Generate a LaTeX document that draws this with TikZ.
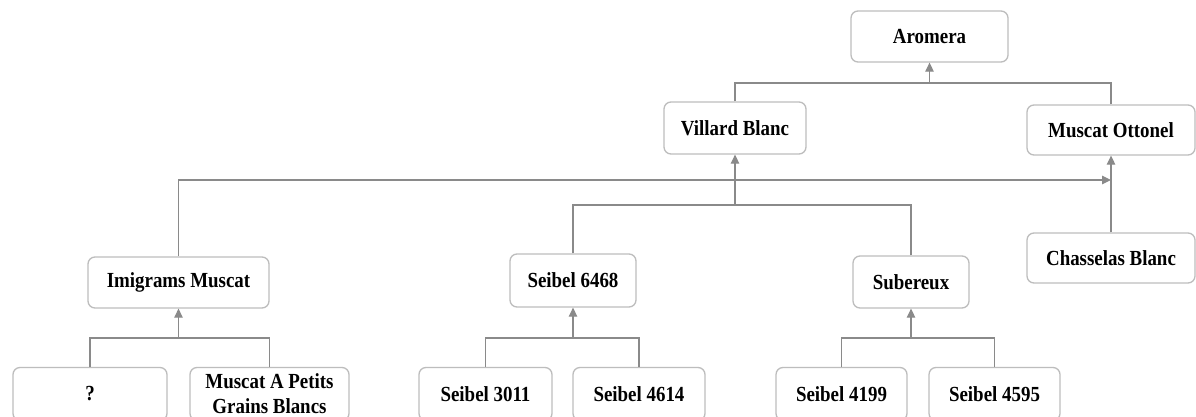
\documentclass[tikz,border=0pt]{standalone}
\usepackage{fontspec}
\setmainfont{Liberation Serif}[FakeStretch=0.88]
\usetikzlibrary{arrows.meta}
\definecolor{boxline}{HTML}{BDBDBD}
\definecolor{wire}{HTML}{8A8A8A}
\tikzset{
  vbox/.style={draw=boxline, line width=1.3pt, rounded corners=7pt, fill=white,
    inner sep=0pt, align=center, font=\fontsize{21.5}{25}\selectfont\bfseries,
    text=black},
  wirestyle/.style={draw=wire, line width=1.2pt},
  arr/.style={wirestyle, -{Triangle[length=9pt,width=8.5pt]}},
}
\begin{document}
\begin{tikzpicture}[x=1pt,y=-1pt]
  \clip (0,0) rectangle (1196,417);
  \fill[white] (0,0) rectangle (1196,417);

  % top level
  \node[vbox, minimum width=157pt, minimum height=51pt] (aromera) at (929.5,36.5) {Aromera};
  \node[vbox, minimum width=142pt, minimum height=52pt] (villard) at (735,128) {Villard Blanc};
  \node[vbox, minimum width=168pt, minimum height=50pt] (muscotto) at (1111,130) {Muscat Ottonel};
  \node[vbox, minimum width=168pt, minimum height=50pt] (chasselas) at (1111,258) {Chasselas Blanc};

  % middle level
  \node[vbox, minimum width=181pt, minimum height=51pt] (imig) at (178.5,282.5) {Imigrams Muscat};
  \node[vbox, minimum width=126pt, minimum height=53pt] (s6468) at (573,280.5) {Seibel 6468};
  \node[vbox, minimum width=116pt, minimum height=52pt] (subereux) at (911,282) {Subereux};

  % bottom level
  \node[vbox, minimum width=154pt, minimum height=53pt] (unknown) at (90,394) {?};
  \node[vbox, minimum width=159pt, minimum height=53pt] (mapgb) at (269.5,394) {Muscat A Petits\\Grains Blancs};
  \node[vbox, minimum width=133pt, minimum height=53pt] (s3011) at (485.5,394) {Seibel 3011};
  \node[vbox, minimum width=132pt, minimum height=53pt] (s4614) at (639,394) {Seibel 4614};
  \node[vbox, minimum width=131pt, minimum height=53pt] (s4199) at (841.5,394) {Seibel 4199};
  \node[vbox, minimum width=131pt, minimum height=53pt] (s4595) at (994.5,394) {Seibel 4595};

  % junction points of the parent pairs
  \coordinate (jA) at (929.5,83);
  \coordinate (jV) at (735,205);
  \coordinate (jM) at (1111,180);
  \coordinate (jI) at (178.5,338);
  \coordinate (jS) at (573,338);
  \coordinate (jU) at (911,338);

  % Aromera = Villard Blanc x Muscat Ottonel
  \draw[wirestyle] (muscotto.north) |- (jA);
  \draw[arr] (villard.north) |- (jA) -- (aromera.south);

  % Villard Blanc = Seibel 6468 x Subereux
  \draw[wirestyle] (subereux.north) |- (jV);
  \draw[arr] (s6468.north) |- (jV) -- (villard.south);

  % Muscat Ottonel = Chasselas Blanc x Imigrams Muscat
  \draw[arr] (imig.north) |- (jM);
  \draw[arr] (chasselas.north) -- (muscotto.south);

  % Imigrams Muscat
  \draw[wirestyle] (mapgb.north) |- (jI);
  \draw[arr] (unknown.north) |- (jI) -- (imig.south);

  % Seibel 6468
  \draw[wirestyle] (s4614.north) |- (jS);
  \draw[arr] (s3011.north) |- (jS) -- (s6468.south);

  % Subereux
  \draw[wirestyle] (s4595.north) |- (jU);
  \draw[arr] (s4199.north) |- (jU) -- (subereux.south);
\end{tikzpicture}
\end{document}
